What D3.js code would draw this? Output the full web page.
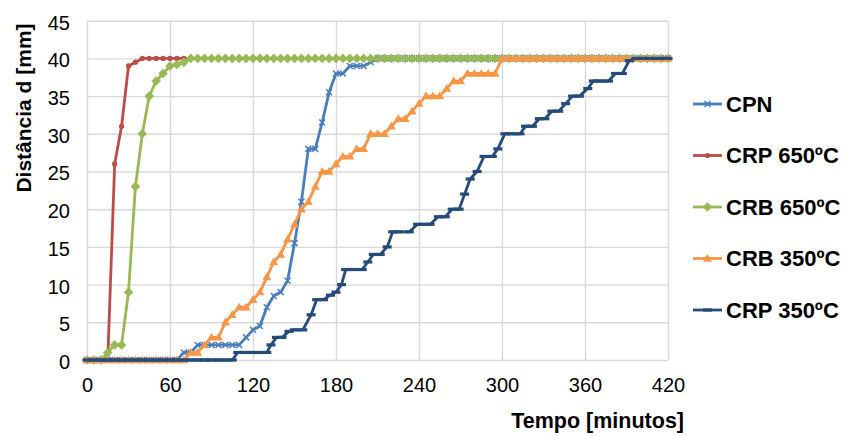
<!DOCTYPE html>
<html>
<head>
<meta charset="UTF-8">
<title>Distância d vs Tempo</title>
<script src="https://cdnjs.cloudflare.com/ajax/libs/d3/7.8.5/d3.min.js"></script>
<style>
body { margin: 0; background: #fff; }
svg { display: block; font-family: 'Liberation Sans', Arial, sans-serif; }
.grid line { stroke: #d9d9d9; stroke-width: 1.4; }
.grid path { display: none; }
.tick text { fill: #000; }
</style>
</head>
<body>
<script>
// sample times (minutes), shared by the first four series
var tempo = [0,5,10,15,20,25,30,35,40,45,50,55,60,65,70,75,80,85,90,95,
  100,105,110,115,120,125,130,135,140,145,150,155,160,165,170,175,180,185,190,195,
  200,205,210,215,220,225,230,235,240,245,250,255,260,265,270,275,280,285,290,295,
  300,305,310,315,320,325,330,335,340,345,350,355,360,365,370,375,380,385,390,395,
  400,405,410,415,420];

var cpn = [0,0,0,0,0,0,0,0,0,0,0,0,0,0,
  1,1,2,2,2,2,2,2,2,3,4,4.5,7,8.5,9,10.5,15.5,21,28,28,31.5,35.5,38,38,39,39,39,39.5,
  40,40,40,40,40,40,40,40,40,40,40,40,40,40,40,40,40,40,40,40,40,40,
  40,40,40,40,40,40,40,40,40,40,40,40,40,40,40,40,40,40,40,40,40,40,40];

var crp650 = [0,0,0,0,26,31,39,39.5,
  40,40,40,40,40,40,40,40,40,40,40,40,40,40,40,40,40,40,40,40,
  40,40,40,40,40,40,40,40,40,40,40,40,40,40,40,40,40,40,40,40,
  40,40,40,40,40,40,40,40,40,40,40,40,40,40,40,40,40,40,40,40,
  40,40,40,40,40,40,40,40,40,40,40,40,40,40,40,40,40];

var crb650 = [0,0,0,1,2,2,9,23,30,35,37,38,39,39.2,39.5,
  40,40,40,40,40,40,40,40,40,40,40,40,40,40,40,40,40,40,40,40,
  40,40,40,40,40,40,40,40,40,40,40,40,40,40,40,40,40,40,40,40,
  40,40,40,40,40,40,40,40,40,40,40,40,40,40,40,40,40,40,40,40,
  40,40,40,40,40,40,40,40,40,40];

var crb350 = [0,0,0,0,0,0,0,0,0,0,0,0,0,0,0,
  1,1,2,3,3,5,6,7,7,8,9,11,13,14,16,18,20,21,23,25,25,26,27,27,28,
  28,30,30,30,31,32,32,33,34,35,35,35,36,37,37,38,38,38,38,38,
  40,40,40,40,40,40,40,40,40,40,40,40,40,40,40,40,40,40,40,40,40,40,40,40,40];

// CRP 350 was read at its own times
var crp350T = [0,5,10,15,20,25,30,35,40,45,50,55,60,65,70,75,80,85,90,95,100,105,
  109,114,119,124,130,133,137,141,146,150,156,162,166,171,176,180,184,187,192,199,
  203,207,212,217,221,225,233,239,244,248,254,259,264,269,273,277,282,287,293,297,
  302,307,313,317,322,327,331,336,341,346,351,356,362,366,371,377,382,387,392,397,
  402,407,412,417,420];
var crp350 = [0,0,0,0,0,0,0,0,0,0,0,0,0,0,0,0,0,0,0,0,0,0,
  1,1,1,1,1,2,3,3,3.8,4,4,6,8,8,8.6,9,10,12,12,12,
  13,14,14,15,17,17,17,18,18,18,19,19,20,20,22,24,25,27,27,28,
  30,30,30,31,31,32,32,33,33,34,35,35,36,37,37,37,38,38,39.7,40,
  40,40,40,40,40];

var xTicks = [0,60,120,180,240,300,360,420];
var yTicks = [0,5,10,15,20,25,30,35,40,45];

var series = [
  {name: "CPN",       t: tempo,   v: cpn,    color: "#4a7ebb", marker: "x"},
  {name: "CRP 650ºC", t: tempo,   v: crp650, color: "#be4b48", marker: "circle"},
  {name: "CRB 650ºC", t: tempo,   v: crb650, color: "#98b954", marker: "diamond"},
  {name: "CRB 350ºC", t: tempo,   v: crb350, color: "#f79646", marker: "triangle"},
  {name: "CRP 350ºC", t: crp350T, v: crp350, color: "#254b7a", marker: "dash"}
];

var width = 842, height = 436;

var svg = d3.select("body").append("svg")
    .attr("width", width)
    .attr("height", height);

var x = d3.scaleLinear().domain([0, 420]).range([87, 668]);
var y = d3.scaleLinear().domain([0, 45]).range([360, 20.7]);

// gridlines
svg.append("g")
    .attr("class", "grid")
    .attr("transform", "translate(87,0)")
    .call(d3.axisLeft(y).tickValues(yTicks).tickSize(-(668 - 87)).tickFormat(""));
svg.append("g")
    .attr("class", "grid")
    .attr("transform", "translate(0,360)")
    .call(d3.axisBottom(x).tickValues(xTicks).tickSize(-(360 - 20.7)).tickFormat(""));

// tick labels
var yAxis = svg.append("g")
    .attr("transform", "translate(70,0)")
    .call(d3.axisLeft(y).tickValues(yTicks).tickSize(0).tickPadding(0));
yAxis.select(".domain").remove();
yAxis.selectAll("text")
    .attr("font-size", 20)
    .attr("font-family", "'Liberation Sans', Arial, sans-serif")
    .attr("dy", "0.42em");

var xAxis = svg.append("g")
    .attr("transform", "translate(0,373)")
    .call(d3.axisBottom(x).tickValues(xTicks).tickSize(0).tickPadding(0));
xAxis.select(".domain").remove();
xAxis.selectAll("text")
    .attr("font-size", 20)
    .attr("font-family", "'Liberation Sans', Arial, sans-serif")
    .attr("dy", "0.95em");

// axis titles
svg.append("text")
    .attr("transform", "translate(31,108) rotate(-90)")
    .attr("text-anchor", "middle")
    .attr("font-size", 21)
    .attr("font-weight", "bold")
    .text("Distância d [mm]");

svg.append("text")
    .attr("x", 684)
    .attr("y", 428)
    .attr("text-anchor", "end")
    .attr("font-size", 21.5)
    .attr("font-weight", "bold")
    .text("Tempo [minutos]");

function drawMarker(sel, kind, color) {
    if (kind == "x") {
        sel.append("path").attr("d", "M-3,-3L3,3M-3,3L3,-3")
            .attr("stroke", color).attr("stroke-width", 1.5).attr("fill", "none");
    } else if (kind == "circle") {
        sel.append("circle").attr("r", 2.6).attr("fill", color);
    } else if (kind == "diamond") {
        sel.append("path").attr("d", "M0,-4.8L4.8,0L0,4.8L-4.8,0Z").attr("fill", color);
    } else if (kind == "triangle") {
        sel.append("path").attr("d", "M0,-4.5L4.5,3.2L-4.5,3.2Z").attr("fill", color);
    } else {
        sel.append("rect").attr("x", -4.5).attr("y", -1.6)
            .attr("width", 9).attr("height", 3.2).attr("fill", color);
    }
}

var line = d3.line()
    .x(function(d) { return x(d[0]); })
    .y(function(d) { return y(d[1]); });

var plot = svg.append("g");

series.forEach(function(s) {
    var pts = s.t.map(function(t, i) { return [t, s.v[i]]; });
    var g = plot.append("g");
    g.append("path")
        .datum(pts)
        .attr("d", line)
        .attr("fill", "none")
        .attr("stroke", s.color)
        .attr("stroke-width", 2.8)
        .attr("stroke-linejoin", "round")
        .attr("stroke-linecap", "round");
    g.selectAll("g.m")
        .data(pts)
        .enter()
        .append("g")
        .attr("class", "m")
        .attr("transform", function(d) { return "translate(" + x(d[0]) + "," + y(d[1]) + ")"; })
        .each(function() { drawMarker(d3.select(this), s.marker, s.color); });
});

// legend
var legendY = [104, 155.5, 207, 258.5, 310];
var legend = svg.append("g");
series.forEach(function(s, i) {
    var lg = legend.append("g").attr("transform", "translate(0," + legendY[i] + ")");
    lg.append("line")
        .attr("x1", 693).attr("x2", 722)
        .attr("stroke", s.color).attr("stroke-width", 2.8);
    drawMarker(lg.append("g").attr("transform", "translate(707.5,0)"), s.marker, s.color);
    lg.append("text")
        .attr("x", 726)
        .attr("y", 7.8)
        .attr("font-size", 22)
        .attr("font-weight", "bold")
        .text(s.name);
});
</script>
</body>
</html>
